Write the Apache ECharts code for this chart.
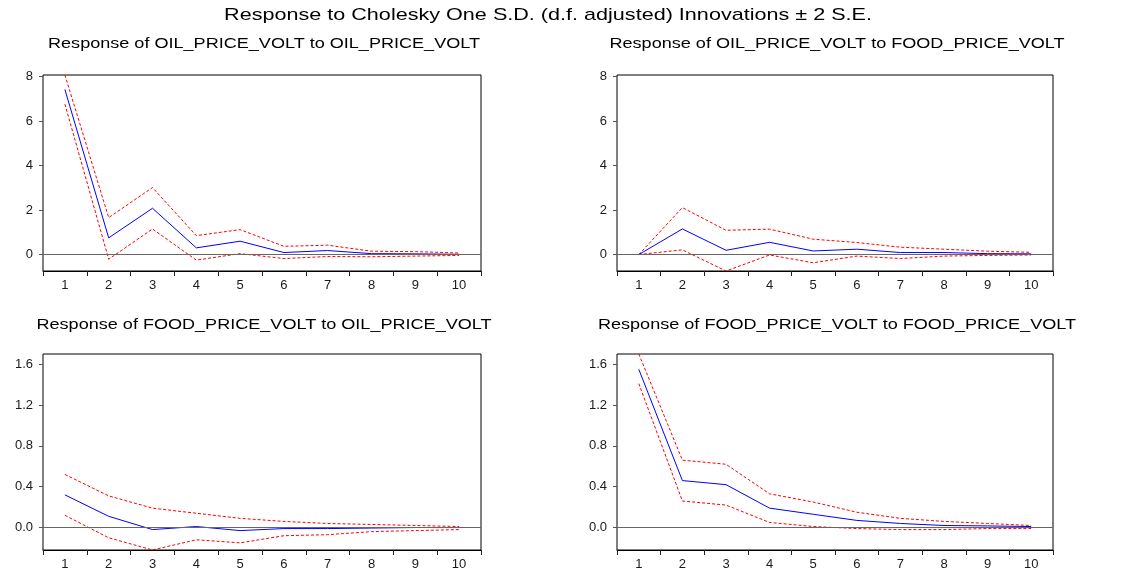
<!DOCTYPE html>
<html>
<head>
<meta charset="utf-8">
<script src="https://cdn.jsdelivr.net/npm/echarts@6/dist/echarts.min.js"></script>
<style>
html,body{margin:0;padding:0;background:#fff;}
#chart{width:1122px;height:571px;}
</style>
</head>
<body>
<div id="chart"></div>
<script>
// ---------- data ----------
const steps = ['1','2','3','4','5','6','7','8','9','10'];

const oilOilResp  = [7.42, 0.75, 2.08, 0.30, 0.60, 0.09, 0.18, 0.04, 0.03, 0.01];
const oilOilUpper = [8.07, 1.66, 3.01, 0.85, 1.12, 0.37, 0.42, 0.15, 0.13, 0.07];
const oilOilLower = [6.76, -0.21, 1.15, -0.25, 0.04, -0.18, -0.09, -0.10, -0.07, -0.04];

const oilFoodResp  = [0.00, 1.15, 0.19, 0.55, 0.16, 0.24, 0.09, 0.09, 0.04, 0.03];
const oilFoodUpper = [0.00, 2.11, 1.09, 1.14, 0.69, 0.54, 0.33, 0.24, 0.15, 0.10];
const oilFoodLower = [0.00, 0.21, -0.74, -0.02, -0.37, -0.07, -0.18, -0.07, -0.04, -0.02];

const foodOilResp  = [0.32, 0.11, -0.02, 0.01, -0.03, -0.01, -0.01, -0.005, 0.00, 0.00];
const foodOilUpper = [0.52, 0.31, 0.19, 0.14, 0.09, 0.06, 0.04, 0.03, 0.02, 0.01];
const foodOilLower = [0.12, -0.10, -0.22, -0.12, -0.15, -0.08, -0.07, -0.04, -0.03, -0.02];

const foodFoodResp  = [1.55, 0.46, 0.42, 0.19, 0.13, 0.07, 0.04, 0.02, 0.016, 0.01];
const foodFoodUpper = [1.70, 0.66, 0.62, 0.33, 0.25, 0.15, 0.09, 0.06, 0.04, 0.02];
const foodFoodLower = [1.41, 0.26, 0.22, 0.05, 0.01, -0.01, -0.02, -0.02, -0.01, -0.01];

const topTicks = [0, 2, 4, 6, 8];
const bottomTicks = [0.0, 0.4, 0.8, 1.2, 1.6];

const mainTitle = 'Response to Cholesky One S.D. (d.f. adjusted) Innovations \u00b1 2 S.E.';
const panelTitles = [
  'Response of OIL_PRICE_VOLT to OIL_PRICE_VOLT',
  'Response of OIL_PRICE_VOLT to FOOD_PRICE_VOLT',
  'Response of FOOD_PRICE_VOLT to OIL_PRICE_VOLT',
  'Response of FOOD_PRICE_VOLT to FOOD_PRICE_VOLT'
];

// ---------- layout ----------
const FONT = "'Liberation Sans', Arial, sans-serif";
const grids = [
  {left: 43, top: 75, width: 438, height: 196},
  {left: 617, top: 75, width: 436, height: 196},
  {left: 43, top: 354, width: 438, height: 197},
  {left: 617, top: 354, width: 436, height: 197}
];
const panels = [
  {resp: oilOilResp, up: oilOilUpper, lo: oilOilLower, row: 0},
  {resp: oilFoodResp, up: oilFoodUpper, lo: oilFoodLower, row: 0},
  {resp: foodOilResp, up: foodOilUpper, lo: foodOilLower, row: 1},
  {resp: foodFoodResp, up: foodFoodUpper, lo: foodFoodLower, row: 1}
];
// shared y range per row: from data min to data max
const rowRange = [0, 1].map(r => {
  const vals = panels.filter(p => p.row === r).flatMap(p => p.resp.concat(p.up, p.lo));
  return {min: Math.min(...vals), max: Math.max(...vals)};
});
const rowTicks = [topTicks, bottomTicks];
const rowFmt = [v => String(Math.round(v)), v => Number(v).toFixed(1)];

const xAxes = [], yAxes = [], series = [];
panels.forEach((p, i) => {
  xAxes.push({
    type: 'category', gridIndex: i, data: steps, boundaryGap: true,
    axisLine: {show: true, onZero: false, lineStyle: {color: '#000', width: 1}},
    axisTick: {show: true, interval: 0, alignWithLabel: false, length: 5, lineStyle: {color: '#222'}},
    axisLabel: {interval: 0, margin: 8, fontSize: 13, fontFamily: FONT, color: '#1a1a1a'},
    splitLine: {show: false}
  });
  const rr = rowRange[p.row];
  yAxes.push({
    type: 'value', gridIndex: i, min: rr.min, max: rr.max,
    axisLine: {show: false},
    axisTick: {show: true, length: 4, customValues: rowTicks[p.row], lineStyle: {color: '#555'}},
    axisLabel: {customValues: rowTicks[p.row], formatter: rowFmt[p.row], margin: 10,
                fontSize: 13, fontFamily: FONT, color: '#1a1a1a'},
    splitLine: {show: false}
  });
  const dashed = {color: '#ff0000', width: 1, type: [3, 2]};
  series.push({
    type: 'line', xAxisIndex: i, yAxisIndex: i, data: p.resp, symbol: 'none',
    lineStyle: {color: '#0000ff', width: 1}, z: 3, animation: false,
    markLine: {silent: true, symbol: ['none', 'none'], label: {show: false},
               lineStyle: {color: '#666', type: 'solid', width: 1},
               data: [{yAxis: 0}], animation: false}
  });
  series.push({type: 'line', xAxisIndex: i, yAxisIndex: i, data: p.up, symbol: 'none',
               lineStyle: dashed, z: 2, animation: false});
  series.push({type: 'line', xAxisIndex: i, yAxisIndex: i, data: p.lo, symbol: 'none',
               lineStyle: dashed, z: 2, animation: false});
});

const titleCenters = [[264, 44], [837, 44], [264, 325], [837, 325]];
const graphic = [{
  type: 'text', x: 548, y: 15, scaleX: 1.27,
  style: {text: mainTitle, align: 'center', verticalAlign: 'middle',
          fontSize: 17, fontFamily: FONT, fill: '#000'}
}];
panelTitles.forEach((t, i) => {
  graphic.push({
    type: 'text', x: titleCenters[i][0], y: titleCenters[i][1], scaleX: 1.29,
    style: {text: t, align: 'center', verticalAlign: 'middle',
            fontSize: 14, fontFamily: FONT, fill: '#000'}
  });
});

const chart = echarts.init(document.getElementById('chart'), null, {renderer: 'canvas'});
chart.setOption({
  backgroundColor: '#fff',
  animation: false,
  grid: grids.map(g => Object.assign({show: true, borderColor: '#000', borderWidth: 1,
                                       backgroundColor: 'transparent', containLabel: false}, g)),
  xAxis: xAxes,
  yAxis: yAxes,
  series: series,
  graphic: graphic
});
</script>
</body>
</html>
